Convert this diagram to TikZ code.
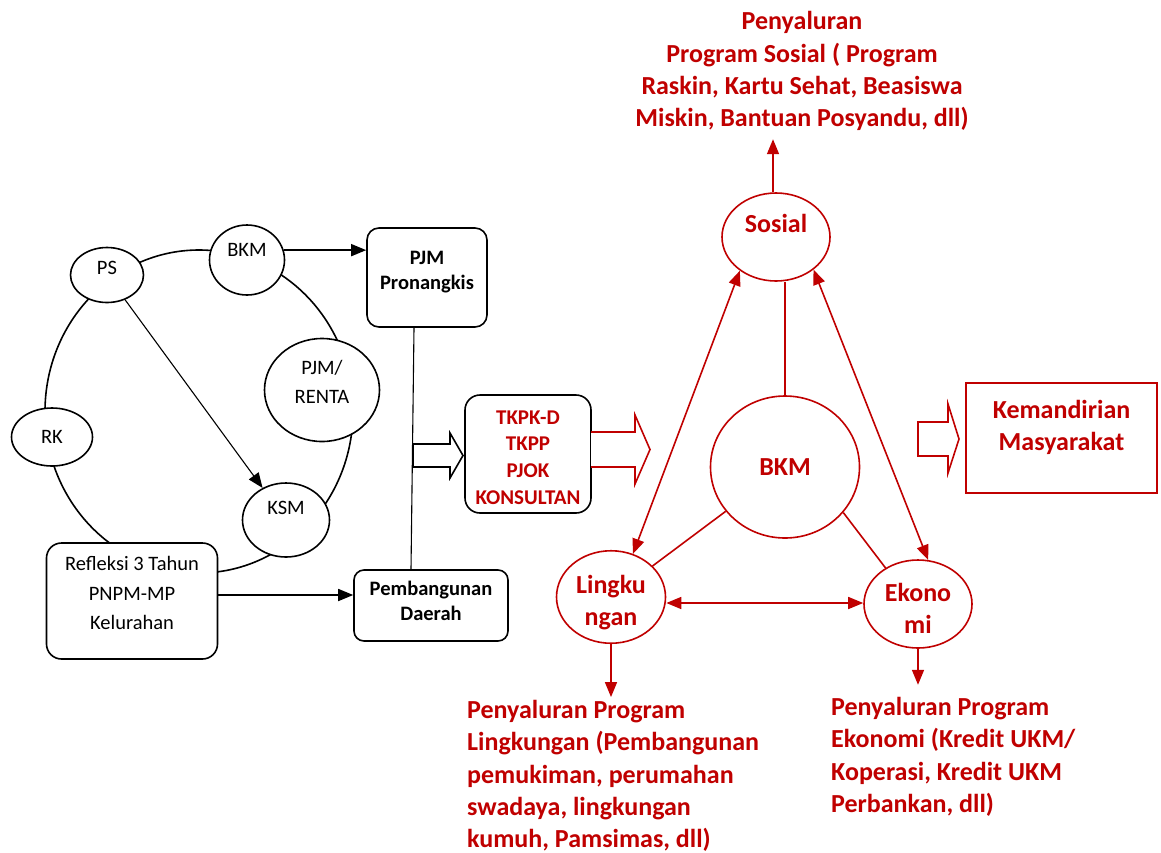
\documentclass[tikz,border=0pt]{standalone}
\usepackage{fontspec}
\setmainfont{Carlito}
\usepackage{tikz}
\usetikzlibrary{arrows.meta,shapes.geometric,positioning}
\definecolor{merah}{RGB}{192,0,0}

\begin{document}
\begin{tikzpicture}[x=1pt,y=-1pt,>={Triangle[length=15pt,width=12pt]},
  lingkar/.style={ellipse,draw,line width=1.6pt,fill=white,inner sep=0pt,align=center,font=\fontsize{20.5}{29.5}\selectfont},
  kotak/.style={draw,line width=1.6pt,fill=white,rounded corners=12pt,inner sep=0pt,align=center,font=\bfseries\fontsize{20.5}{25}\selectfont},
  merahling/.style={ellipse,draw=merah,text=merah,line width=1.6pt,fill=white,inner sep=0pt,align=center,font=\bfseries\fontsize{26}{32}\selectfont},
  merahtxt/.style={text=merah,inner sep=0pt,font=\bfseries\fontsize{26}{32.3}\selectfont},
  garis/.style={line width=1.6pt},
  garismerah/.style={color=merah,line width=1.6pt},
  panah/.style={line width=1.6pt,fill=white,line join=miter}]
  \fill[white] (0,0) rectangle (1161,852);
  \useasboundingbox (0,0) rectangle (1161,852);

  % siklus kiri
  \draw[garis] (199,411.5) ellipse [x radius=154pt, y radius=161.5pt];
  \node[lingkar,minimum width=73pt,minimum height=55pt,text depth=14pt] (ps) at (107,275) {PS};
  \node[lingkar,minimum width=75pt,minimum height=70pt,text depth=20pt] (bkm) at (247,260) {BKM};
  \node[lingkar,minimum width=115pt,minimum height=103pt,text depth=16pt] (renta) at (322,390) {PJM/\\RENTA};
  \node[lingkar,minimum width=81pt,minimum height=58pt] (rk) at (52,437) {RK};
  \node[lingkar,minimum width=87pt,minimum height=74pt,text depth=24pt] (ksm) at (286,520) {KSM};
  \node[kotak,font=\fontsize{20.5}{29.5}\selectfont,rounded corners=15pt,minimum width=171pt,minimum height=116pt,text depth=16pt] (refleksi) at (132,601) {Refleksi 3 Tahun\\PNPM-MP\\Kelurahan};

  \node[kotak,minimum width=120pt,minimum height=99pt,text depth=14pt] (pronangkis) at (427,277.5) {PJM\\Pronangkis};
  \node[kotak,rounded corners=10pt,minimum width=154pt,minimum height=71pt,text depth=10pt] (daerah) at (431,605.5) {Pembangunan\\Daerah};
  \node[kotak,text=merah,font=\bfseries\fontsize{21}{26.7}\selectfont,rounded corners=15pt,minimum width=126pt,minimum height=118pt,text height=100.5pt] (tkpk) at (528,454) {TKPK-D\\TKPP\\PJOK\\KONSULTAN};

  \path[->,garis] (bkm.15) edge (pronangkis.west |- bkm.15)
    (ps) edge[line width=1.1pt] (ksm);
  \coordinate (ra) at ([yshift=6pt]refleksi.east);
  \draw[->,garis] (ra) -- (ra -| daerah.west);
  \draw[line width=1.1pt] ([xshift=-13pt]pronangkis.south) -- ([xshift=-20pt]daerah.north);
  \draw[panah] (413,444) -- (450,444) -- (450,433) -- (463,455.5) -- (450,478) -- (450,467) -- (413,467) -- cycle;

  % segitiga kanan
  \node[merahling,minimum width=108pt,minimum height=88pt,text depth=28pt] (sosial) at (776,237) {Sosial};
  \node[merahling,minimum width=149pt,minimum height=142pt] (bkmm) at (785,467) {BKM};
  \node[merahling,minimum width=109pt,minimum height=90pt,text height=61pt] (lingk) at (611,597) {Lingku\\ngan};
  \node[merahling,minimum width=108pt,minimum height=88pt,text height=59pt] (ekon) at (918,604) {Ekono\\mi};
  \node[draw=merah,line width=1.6pt,text=merah,align=center,inner sep=0pt,font=\bfseries\fontsize{26}{32}\selectfont,minimum width=191pt,minimum height=110pt,text depth=25pt] (mandiri) at (1061.5,438) {Kemandirian\\Masyarakat};

  \draw[panah,draw=merah] (591,432) -- (635,432) -- (635,415) -- (650,449.5) -- (635,484) -- (635,467) -- (591,467);
  \draw[panah,draw=merah] (918,422) -- (948,422) -- (948,404) -- (959,439) -- (948,473) -- (948,456) -- (918,456) -- cycle;

  \path[garismerah] (bkmm.north) edge (bkmm.north |- sosial.south)
    (bkmm) edge (lingk)
    (bkmm.-38) edge (ekon.132);
  \path[garismerah,<->] (sosial.223) edge (lingk.63)
    (sosial.-41) edge (ekon.77);
  \coordinate (lk) at ([yshift=-6pt]lingk.east);
  \draw[garismerah,<->] (lk) -- (lk -| ekon.west);

  \coordinate (sosbase) at ([xshift=-3pt]sosial.north);
  \coordinate[above=53pt of sosbase] (sosup);
  \coordinate[below=53pt of lingk.south] (lingdown);
  \coordinate[below=36pt of ekon.south] (ekodown);
  \draw[garismerah,->] (sosbase) -- (sosup);
  \draw[garismerah,->] (lingk.south) -- (lingdown);
  \draw[garismerah,->] (ekon.south) -- (ekodown);

  \node[merahtxt,align=center,anchor=south] (txsosial) at (802,131) {Penyaluran\\Program Sosial ( Program\\Raskin, Kartu Sehat, Beasiswa\\Miskin, Bantuan Posyandu, dll)};
  \node[merahtxt,align=left,anchor=north west] (txling) at (467,700) {Penyaluran Program\\Lingkungan (Pembangunan\\pemukiman, perumahan\\swadaya, lingkungan\\kumuh, Pamsimas, dll)};
  \node[merahtxt,align=left,anchor=north west] (txeko) at (831,697) {Penyaluran Program\\Ekonomi (Kredit UKM/\\Koperasi, Kredit UKM\\Perbankan, dll)};
\end{tikzpicture}
\end{document}
